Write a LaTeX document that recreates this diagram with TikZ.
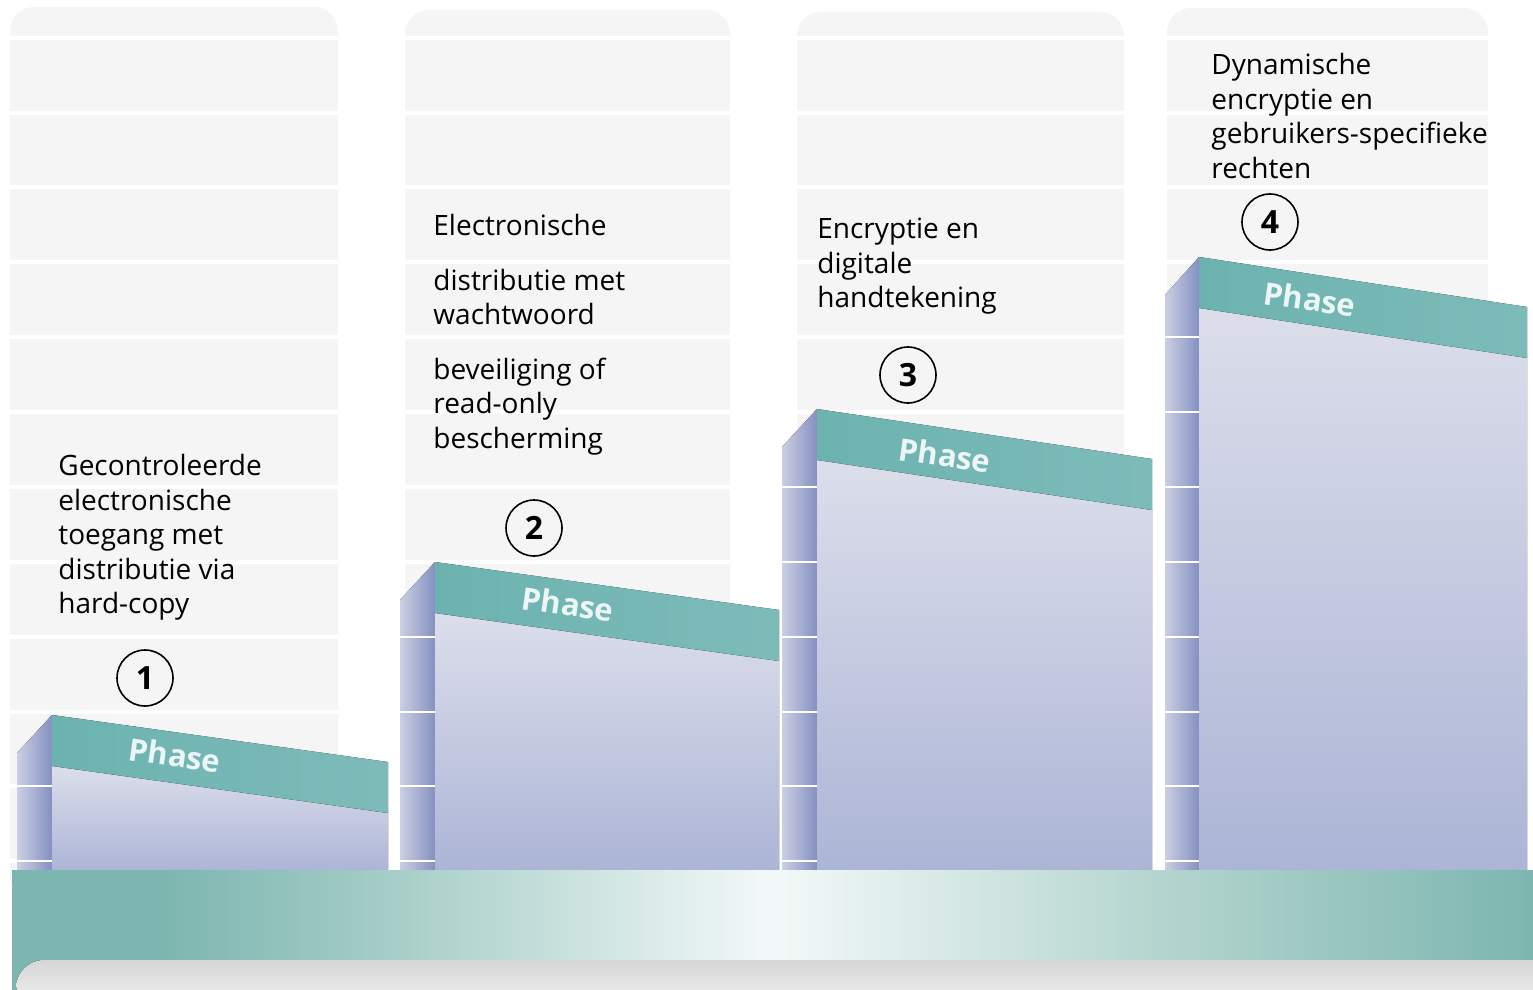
\documentclass[tikz,border=0pt]{standalone}
\usepackage{fontspec}
\setmainfont{Open Sans}
\definecolor{colbg}{HTML}{F5F5F5}
\definecolor{teal1}{HTML}{6CB3B0}
\definecolor{teal2}{HTML}{7DBBB9}
\definecolor{sideL}{HTML}{CBCFE3}
\definecolor{sideR}{HTML}{8590C1}
\definecolor{bodyT}{HTML}{DCDEEB}
\definecolor{bodyB}{HTML}{ACB5D6}
\definecolor{barT}{HTML}{7DB6B0}
\definecolor{barA}{HTML}{A9CFC9}
\definecolor{barW}{HTML}{F3F9F8}
\definecolor{barB}{HTML}{B3D4CE}
\definecolor{shadT}{HTML}{D6D6D6}
\definecolor{shadB}{HTML}{F4F4F4}
\pgfdeclarehorizontalshading{barshade}{100bp}{color(0bp)=(barT); color(25bp)=(barT); color(30bp)=(barT); color(38bp)=(barA); color(50bp)=(barW); color(63bp)=(barB); color(75bp)=(barT); color(100bp)=(barT)}
\tikzset{
  colbox/.style={fill=colbg, rounded corners=12},
  gridline/.style={white, line width=1.6pt},
  tickline/.style={white, line width=1.4pt},
  sideface/.style={left color=sideL, right color=sideR},
  bodyface/.style={top color=bodyT, bottom color=bodyB},
  bandface/.style={left color=teal1, right color=teal2},
  desc/.style={font=\fontsize{14}{17.25}\selectfont, align=left, anchor=north west, inner sep=0pt, text=black},
  numcirc/.style={circle, draw=black, line width=0.8pt, minimum size=28pt, inner sep=0pt, font=\bfseries\fontsize{16}{18}\selectfont},
  phaselbl/.style={text=white!93!teal, font=\bfseries\fontsize{15.5}{18}\selectfont, rotate=-8, inner sep=0pt}
}
\newcommand{\phblock}[6]{%
  % #1 side x, #2 body x, #3 right x, #4 top y, #5 drop, #6 tick list
  \fill[sideface] (#1,#4+38) -- (#2,#4) -- (#2,870) -- (#1,870) -- cycle;
  \foreach \g in {#6} {\draw[tickline] (#1,\g) -- (#2,\g);}
  \fill[bodyface] (#2,#4+50) -- (#3,#4+#5+50) -- (#3,870) -- (#2,870) -- cycle;
  \fill[bandface] (#2,#4) -- (#3,#4+#5) -- (#3,#4+#5+51) -- (#2,#4+51) -- cycle;
}
\begin{document}
\begin{tikzpicture}[x=0.5pt, y=-0.5pt]
\useasboundingbox (0,0) rectangle (1533,990);
\fill[white] (0,0) rectangle (1533,990);
% background columns
\fill[colbox] (10,7) rectangle (338,900);
\fill[colbox] (405,10) rectangle (730,900);
\fill[colbox] (797,12) rectangle (1124,900);
\fill[colbox] (1167,8) rectangle (1488,900);
\foreach \g in {38,113,187,262,337,412,487,562,637,712,786,861}
  {\draw[gridline] (0,\g) -- (1533,\g);}
% blocks
\phblock{17}{52}{388}{715}{47}{786,861}
\phblock{400}{435}{779}{562}{48}{637,712,786,861}
\phblock{782}{817}{1152}{409}{50}{487,562,637,712,786,861}
\phblock{1165}{1199}{1527}{257}{50}{337,412,487,562,637,712,786,861}
% base bar
\fill[shading=barshade] (12,870) rectangle (1533,990);
\fill[top color=shadT, bottom color=shadB, rounded corners=14] (16,960) rectangle (1560,1010);
% phase labels
\node[phaselbl] (ph1) at (175,755) {Phase};
\node[phaselbl] (ph2) at (568,604) {Phase};
\node[phaselbl] (ph3) at (945,455) {Phase};
\node[phaselbl] (ph4) at (1310,299) {Phase};
% number circles
\node[numcirc] (c1) at (145,678) {1};
\node[numcirc] (c2) at (534,528) {2};
\node[numcirc] (c3) at (908,375) {3};
\node[numcirc] (c4) at (1270,222) {4};
% descriptions
\node[desc] (t1) at (58,454) {Gecontroleerde\\electronische\\toegang met\\distributie via\\hard-copy};
\node[desc] (t2) at (433,214) {Electronische\\[10pt]distributie met\\wachtwoord\\[10pt]beveiliging of\\read-only\\bescherming};
\node[desc] (t3) at (817,218) {Encryptie en\\digitale\\handtekening};
\node[desc] (t4) at (1211,53) {Dynamische\\encryptie en\\gebruikers-specifieke\\rechten};
\end{tikzpicture}
\end{document}
